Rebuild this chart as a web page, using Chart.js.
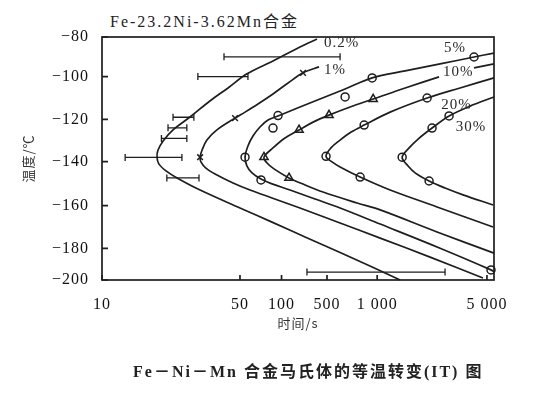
<html>
<head>
<meta charset="utf-8">
<style>
  body { margin: 0; background: #fff; }
  #wrap { position: relative; width: 544px; height: 400px; }
  #title { position: absolute; left: 110px; top: 8px; font: 16px "Liberation Serif", "Noto Sans CJK SC"; letter-spacing: 2px; color: #222; white-space: nowrap; }
  #caption { position: absolute; left: 133px; top: 358px; font: bold 16px "Liberation Serif", "Noto Sans CJK SC"; letter-spacing: 2px; color: #222; white-space: nowrap; }
  canvas { position: absolute; left: 0; top: 0; }
</style>
</head>
<body>
<div id="wrap">
  <div id="title">Fe-23.2Ni-3.62Mn合金</div>
  <canvas id="chart" width="544" height="400"></canvas>
  <div id="caption">Fe－Ni－Mn 合金马氏体的等温转变(IT) 图</div>
</div>
<script src="https://cdn.jsdelivr.net/npm/chart.js"></script>
<script>
// axis ticks
const tickTimes = [10, 50, 100, 500, 1000, 5000];
const tickTimeLabels = ['10', '50', '100', '500', '1 000', '5 000'];
const tickTemps = [-200, -180, -160, -140, -120, -100, -80];

// the printed time axis is not evenly logarithmic, so the scale is pinned
// to where each printed tick sits (fraction of the plot width/height)
const xAnchorValues = [10, 50, 100, 500, 1000, 5000, 5540];
const xAnchorFractions = [0, 0.352, 0.458, 0.574, 0.702, 0.982, 1];
const yAnchorValues = [-200, -180, -160, -140, -120, -100, -80];
const yAnchorFractions = [0, 0.130, 0.306, 0.487, 0.661, 0.837, 1];

// C-curves, time in s, temperature in C
const c02Time = [351, 192, 86.7, 56.2, 43.5, 35.2, 27.9, 22.9, 20.4, 19.2, 19.0, 19.4, 21.1, 24.0, 31.4, 50, 85.3, 230, 590, 933, 1400];
const c02Temp = [-81, -85, -92.1, -98.6, -105.3, -111.4, -118.9, -125, -130.2, -134.6, -137.9, -141, -144.2, -147.4, -152.9, -161.1, -167.7, -174.7, -182.3, -191.8, -200];

const c1Time = [377, 214, 126, 86.7, 67.5, 54.4, 47.2, 38.2, 34.0, 32.1, 31.4, 31.7, 33.6, 37.4, 46.1, 59.1, 85.3, 192, 599, 1045, 2172, 4716];
const c1Temp = [-95.1, -98.1, -103, -108.1, -112.8, -116.6, -119.4, -125, -129.8, -134.6, -137.9, -140.1, -142.9, -145.6, -149.7, -152.9, -156.5, -161.1, -168.1, -175.2, -185.5, -198.7];

const c5Time = [5540, 4136, 2515, 1507, 933, 642, 390, 192, 94.3, 79.8, 69.8, 62.1, 57.1, 54.4, 56.2, 61.1, 71.0, 85.3, 135, 327, 599, 1045, 2515, 5303, 5540];
const c5Temp = [-88.1, -90.1, -93.6, -97.1, -100.6, -105.8, -110.5, -114.2, -118.4, -120.3, -123.6, -127.9, -132.6, -137.9, -142, -145.1, -147.9, -150.1, -152.9, -157, -161.1, -168.6, -179.9, -193.6, -194.9];

// null = break in the line where the "10%" label sits
const c10Time = [5540, 4136, 3300, 2477, 1507, 946, 688, 514, 305, 186, 113, 86.7, 74.6, 78.5, 88.2, 130, 230, 434, 758, 1045, 2406, 5540];
const c10Temp = [-93.6, -95.6, null, -100.1, -105.3, -110.5, -114.2, -118, -121.3, -125, -128.8, -133.5, -137.9, -140.6, -143.3, -147.4, -150.6, -153.8, -158.8, -162, -172.3, -183];

const c20Time = [5540, 3370, 2079, 1209, 835, 698, 599, 528, 483, 536, 599, 790, 1209, 2406, 5462];
const c20Temp = [-100.6, -105.3, -110, -116.6, -122.7, -126, -129.8, -133.5, -137.5, -140.1, -142.4, -147, -152.9, -160.6, -170];

const c30Time = [5540, 3900, 2869, 2236, 1822, 1597, 1442, 1574, 1744, 2141, 2705, 3520, 5462];
const c30Temp = [-109.5, -113.8, -118.4, -124.1, -129.3, -133.5, -137.9, -142, -145.1, -148.8, -152, -155.1, -159.7];

// measured points
const crossTime = [214, 47.2, 31.4];
const crossTemp = [-98.1, -119.4, -137.9];
const circleTime = [54.4, 71, 86.7, 94.3, 642, 933, 4136, 5303, 483, 790, 835, 2079, 1442, 2141, 2236, 2869];
const circleTemp = [-137.9, -148.3, -124.1, -118.2, -109.5, -100.6, -90.1, -193.6, -137.5, -147, -122.7, -110, -137.9, -148.8, -124.1, -118.4];
const triTime = [74.6, 130.4, 185.7, 514, 946];
const triTemp = [-137.9, -147.4, -125, -118, -110.5];

// scatter of the 0.2% start times
const errTemp = [-90, -100, -119, -124, -129, -138, -147.4, -195];
const errLo = [41.5, 30.6, 22.9, 21.6, 20.0, 13.1, 21.3, 246];
const errHi = [599, 57.1, 29.2, 26.9, 26.9, 25.4, 31.0, 2705];

// curve labels
const curveLabels = ['0.2%', '1%', '5%', '10%', '20%', '30%'];
const labelTime = [450, 450, 3133, 3277, 3200, 3954];
const labelTemp = [-83, -96.6, -85.5, -97.6, -113.3, -123.7];
const labelAlign = ['left', 'left', 'center', 'center', 'center', 'center'];

const INK = '#1e1e1e';

class AnchoredScale extends Chart.Scale {
  static id = 'anchored';
  static defaults = {};
  warp(v) { return this.options.logarithmic ? Math.log10(v) : v; }
  determineDataLimits() {
    const v = this.options.anchorValues;
    this.min = v[0];
    this.max = v[v.length - 1];
  }
  buildTicks() {
    return this.options.tickValues.map(value => ({ value }));
  }
  getLabelForValue(value) { return String(value); }
  getPixelForValue(value) {
    const vals = this.options.anchorValues, fr = this.options.anchorFractions;
    let i = 1;
    while (i < vals.length - 1 && value > vals[i]) i++;
    const w0 = this.warp(vals[i - 1]), w1 = this.warp(vals[i]);
    const d = fr[i - 1] + (fr[i] - fr[i - 1]) * (this.warp(value) - w0) / (w1 - w0);
    return this.getPixelForDecimal(d);
  }
  getValueForPixel(pixel) {
    const vals = this.options.anchorValues, fr = this.options.anchorFractions;
    const d = this.getDecimalForPixel(pixel);
    let i = 1;
    while (i < fr.length - 1 && d > fr[i]) i++;
    const w0 = this.warp(vals[i - 1]), w1 = this.warp(vals[i]);
    const w = w0 + (w1 - w0) * (d - fr[i - 1]) / (fr[i] - fr[i - 1]);
    return this.options.logarithmic ? Math.pow(10, w) : w;
  }
  getPixelForTick(index) {
    return this.getPixelForValue(this.ticks[index].value);
  }
}
Chart.register(AnchoredScale);

const zip = (xs, ys) => xs.map((x, i) => ({ x, y: ys[i] }));

function curve(xs, ys) {
  return {
    data: zip(xs, ys), borderColor: INK, borderWidth: 1.7,
    pointRadius: 0, tension: 0.35, fill: false
  };
}
function markers(xs, ys, style, r) {
  return {
    data: zip(xs, ys), showLine: false, pointStyle: style, pointRadius: r,
    pointBorderColor: INK, pointBackgroundColor: '#fff', pointBorderWidth: 1.5
  };
}

const datasets = [
  curve(c02Time, c02Temp), curve(c1Time, c1Temp), curve(c5Time, c5Temp),
  curve(c10Time, c10Temp), curve(c20Time, c20Temp), curve(c30Time, c30Temp)
];
errTemp.forEach((t, i) => {
  datasets.push({
    data: [{ x: errLo[i], y: t }, { x: errHi[i], y: t }],
    borderColor: INK, borderWidth: 1.3, tension: 0,
    pointStyle: 'line', rotation: 90, pointRadius: 3.5,
    pointBorderColor: INK, pointBorderWidth: 1.3
  });
});
datasets.push(markers(circleTime, circleTemp, 'circle', 4));
datasets.push(markers(triTime, triTemp, 'triangle', 4.8));
datasets.push(markers(crossTime, crossTemp, 'crossRot', 4));

const framePlugin = {
  id: 'frame',
  beforeDraw(chart) {
    chart.ctx.letterSpacing = '1px';
  },
  afterDatasetsDraw(chart) {
    const { ctx, chartArea: a, scales: { x, y } } = chart;
    ctx.save();
    ctx.strokeStyle = INK;
    ctx.lineWidth = 1.7;
    ctx.strokeRect(a.left, a.top, a.right - a.left, a.bottom - a.top);
    ctx.beginPath();
    x.ticks.forEach(t => {
      const px = x.getPixelForValue(t.value);
      ctx.moveTo(px, a.bottom); ctx.lineTo(px, a.bottom - 5);
    });
    y.ticks.forEach(t => {
      const py = y.getPixelForValue(t.value);
      ctx.moveTo(a.left, py); ctx.lineTo(a.left + 6, py);
    });
    ctx.stroke();
    ctx.fillStyle = '#2a2a2a';
    ctx.font = '15px "Liberation Serif"';
    ctx.textBaseline = 'middle';
    curveLabels.forEach((txt, i) => {
      ctx.textAlign = labelAlign[i];
      ctx.fillText(txt, x.getPixelForValue(labelTime[i]), y.getPixelForValue(labelTemp[i]));
    });
    ctx.restore();
  }
};

const tickFont = { family: '"Liberation Serif"', size: 16 };

new Chart(document.getElementById('chart'), {
  type: 'line',
  data: { datasets },
  plugins: [framePlugin],
  options: {
    responsive: false,
    animation: false,
    events: [],
    layout: { padding: { top: 37, right: 50, bottom: 60, left: 0 } },
    plugins: { legend: { display: false }, tooltip: { enabled: false } },
    scales: {
      x: {
        type: 'anchored', logarithmic: true,
        anchorValues: xAnchorValues, anchorFractions: xAnchorFractions,
        tickValues: tickTimes,
        grid: { display: false }, border: { display: false },
        ticks: {
          autoSkip: false, maxRotation: 0, padding: 7, color: '#111', font: tickFont,
          callback: v => tickTimeLabels[tickTimes.indexOf(v)]
        },
        title: {
          display: true, text: '时间/s', color: '#333',
          font: { family: '"Noto Sans CJK SC"', size: 13 }, padding: { top: 0, bottom: 9 }
        },
        afterFit: s => { s.height = 60; }
      },
      y: {
        type: 'anchored', logarithmic: false,
        anchorValues: yAnchorValues, anchorFractions: yAnchorFractions,
        tickValues: tickTemps,
        grid: { display: false }, border: { display: false },
        ticks: {
          autoSkip: false, padding: 5, color: '#111', font: tickFont,
          callback: v => '\u2212' + Math.abs(v)
        },
        title: {
          display: true, text: '温度/℃', color: '#333',
          font: { family: '"Noto Sans CJK SC"', size: 13 }, padding: { top: 20, bottom: 0 }
        },
        afterFit: s => { s.width = 102; }
      }
    }
  }
});
</script>
</body>
</html>
